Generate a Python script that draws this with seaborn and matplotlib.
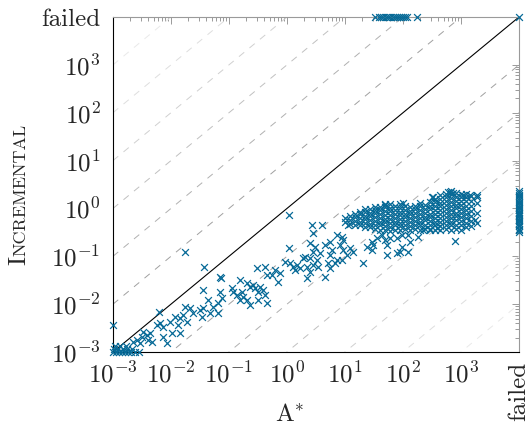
import matplotlib
matplotlib.use("Agg")
import matplotlib.pyplot as plt
import matplotlib.ticker as mticker
import numpy as np
import pandas as pd
import seaborn as sns

FAILED = 1e4  # position used for "failed" runs
BLUE = "#076a97"

# runtimes (s): A* on x, Incremental on y
trend_x = [1.0e-3, 1.08, 0.0174, 0.0371, 0.0720, 0.0356, 0.00628, 2.67, 3.94, 2.81,
           7.28, 8.77, 9.35, 11.3, 1.10, 2.49, 3.04, 5.51, 4.52, 2.84,
           2.04, 1.91, 5.90, 5.51, 7.19, 5.15, 3.71, 0.925, 1.13, 1.28,
           1.47, 1.68, 1.37, 2.19, 2.49, 2.19, 3.25, 3.47, 4.52, 0.621,
           0.757, 0.544, 0.447, 0.708, 0.418, 0.301, 0.155, 0.202, 0.230, 0.262,
           0.281, 0.320, 0.342, 0.390, 0.418, 0.447, 0.0700, 0.111, 0.119, 0.136,
           0.166, 0.177, 0.202, 0.230, 0.155, 0.0700, 0.0748, 0.0655, 0.0440, 0.0536,
           0.0361, 0.0470, 0.0655, 0.320, 0.0316, 0.0338, 0.0242, 0.0213, 0.0174, 0.0163,
           0.0143, 0.0187, 0.0117, 0.0096, 0.0134, 0.0143, 0.00736, 0.00736, 0.0103, 0.00844,
           0.00566, 0.00646, 0.00333, 0.00381, 0.00435, 0.00313, 0.00406, 0.00465, 0.00292, 0.00224,
           0.00256]
trend_y = [0.00366, 0.730, 0.123, 0.0597, 0.0356, 0.0197, 0.00695, 0.451, 0.451, 0.306,
           0.279, 0.256, 0.219, 0.451, 0.147, 0.189, 0.156, 0.202, 0.172, 0.125,
           0.098, 0.0908, 0.135, 0.106, 0.0836, 0.0713, 0.117, 0.0771, 0.0713, 0.0605,
           0.0658, 0.0561, 0.0516, 0.0605, 0.0476, 0.0347, 0.0836, 0.0605, 0.0374, 0.0516,
           0.0441, 0.0406, 0.0406, 0.0294, 0.0605, 0.0561, 0.0319, 0.0272, 0.0231, 0.0251,
           0.0214, 0.0182, 0.0231, 0.0197, 0.0155, 0.0104, 0.0374, 0.0214, 0.0182, 0.0155,
           0.0182, 0.0143, 0.0122, 0.00960, 0.0122, 0.0182, 0.0132, 0.0104, 0.0122, 0.00883,
           0.00818, 0.00645, 0.00645, 0.0122, 0.00755, 0.00547, 0.00645, 0.00818, 0.00883, 0.00593,
           0.00506, 0.00430, 0.00547, 0.00430, 0.00366, 0.00246, 0.00338, 0.00209, 0.00246, 0.00152,
           0.00366, 0.00398, 0.00265, 0.00226, 0.00246, 0.00209, 0.00178, 0.00164, 0.00152, 0.00164,
           0.00178]

# fastest instances, piled up in the lower left corner
corner_x = [1.0e-3, 1.13e-3, 1.27e-3, 1.43e-3, 1.61e-3, 1.82e-3, 2.04e-3, 2.39e-3, 2.81e-3,
            1.04e-3, 1.22e-3, 1.49e-3, 1.74e-3, 2.13e-3, 1.08e-3, 1.32e-3, 1.68e-3]
corner_y = [1.0e-3, 1.0e-3, 1.0e-3, 1.0e-3, 1.0e-3, 1.0e-3, 1.0e-3, 1.0e-3, 1.0e-3,
            1.155e-3, 1.155e-3, 1.155e-3, 1.155e-3, 1.155e-3, 1.33e-3, 1.33e-3, 1.33e-3]

# loose points around the big cluster
spread_x = [23.7, 28.8, 35.2, 42.9, 48.9, 52.4, 59.7, 77.8, 95.0, 132,
            184, 52.4, 77.8, 88.8, 123, 20.7, 8.20, 9.35, 12.2, 13.9,
            10.7, 8.77, 2.49, 2.84, 6.73, 5.51, 30.8, 29.0, 95.0, 123,
            224, 292, 381, 788,
            48.9, 101, 313, 646, 737, 1096, 1429, 1866, 1742, 333, 597]
spread_y = [0.158, 0.202, 0.238, 0.279, 0.219, 0.172, 0.238, 0.238, 0.279, 0.202,
            0.256, 0.106, 0.117, 0.125, 0.125, 0.0713, 0.172, 0.135, 0.147, 0.125,
            0.106, 0.0836, 0.0908, 0.0658, 0.0713, 0.0561, 0.172, 0.135, 0.158, 0.279,
            0.354, 0.354, 0.385, 0.212,
            1.18, 1.28, 1.76, 2.24, 2.07, 1.91, 1.91, 1.76, 0.573, 1.76, 2.24]

# dense cluster, read column by column (A* time -> Incremental times)
cluster_cols = [10.0, 12.3, 14.8, 18.1, 22.1, 27.0, 33.0, 40.3, 49.2, 60.1,
                73.4, 89.6, 109, 134, 163, 199, 243, 297, 363, 443,
                541, 660, 806, 984, 1200, 1466, 1877]
cluster_vals = [
    [0.52, 0.64],
    [0.48, 0.58, 0.70],
    [0.46, 0.55, 0.66, 0.78],
    [0.44, 0.53, 0.63, 0.75, 0.86],
    [0.41, 0.50, 0.60, 0.71, 0.84, 0.97],
    [0.40, 0.48, 0.57, 0.68, 0.81, 0.96],
    [0.38, 0.46, 0.55, 0.66, 0.79, 0.93, 1.08],
    [0.36, 0.44, 0.53, 0.63, 0.76, 0.91, 1.07],
    [0.35, 0.42, 0.51, 0.61, 0.74, 0.89, 1.06, 1.25],
    [0.34, 0.41, 0.50, 0.60, 0.72, 0.87, 1.04, 1.22],
    [0.36, 0.44, 0.53, 0.64, 0.77, 0.93, 1.12],
    [0.35, 0.42, 0.50, 0.60, 0.72, 0.86, 1.03, 1.22],
    [0.37, 0.45, 0.54, 0.65, 0.78, 0.94, 1.13],
    [0.36, 0.43, 0.52, 0.62, 0.75, 0.90, 1.08],
    [0.38, 0.46, 0.55, 0.66, 0.80, 0.96, 1.15],
    [0.36, 0.44, 0.53, 0.64, 0.77, 0.93, 1.12, 1.32],
    [0.38, 0.46, 0.56, 0.67, 0.81, 0.97, 1.17],
    [0.37, 0.45, 0.54, 0.65, 0.78, 0.95, 1.15, 1.38],
    [0.36, 0.44, 0.53, 0.64, 0.77, 0.93, 1.12, 1.35, 1.6],
    [0.35, 0.43, 0.52, 0.63, 0.76, 0.92, 1.10, 1.33, 1.6, 1.9],
    [0.37, 0.45, 0.55, 0.66, 0.80, 0.97, 1.17, 1.40, 1.7, 2.0],
    [0.36, 0.44, 0.53, 0.64, 0.77, 0.93, 1.12, 1.35, 1.65, 2.0, 2.3],
    [0.38, 0.46, 0.56, 0.68, 0.82, 1.00, 1.20, 1.45, 1.75, 2.1],
    [0.36, 0.44, 0.54, 0.65, 0.79, 0.96, 1.16, 1.40, 1.7, 2.0],
    [0.40, 0.50, 0.62, 0.76, 0.93, 1.13, 1.40, 1.7, 2.0],
    [0.42, 0.55, 0.70, 0.90, 1.10, 1.40, 1.8],
    [0.50, 0.80, 1.30, 1.9],
]

# A* failed: Incremental times; Incremental failed: A* times
astar_failed_inc = [0.32, 0.35, 0.38, 0.42, 0.46, 0.50, 0.54, 0.58, 0.63, 0.68,
                    0.73, 0.79, 0.85, 0.92, 1.00, 1.08, 1.17, 1.27, 1.38, 1.50,
                    1.63, 1.78, 1.95, 2.15, 2.35]
inc_failed_astar = [33, 38, 42, 46, 50, 55, 60, 66, 72, 78, 85, 92, 100, 108, 118, 175]
both_failed = 1

xs = list(trend_x) + corner_x + spread_x
ys = list(trend_y) + corner_y + spread_y
for cx, vals in zip(cluster_cols, cluster_vals):
    xs += [cx] * len(vals)
    ys += vals
xs += [FAILED] * len(astar_failed_inc) + inc_failed_astar + [FAILED] * both_failed
ys += astar_failed_inc + [FAILED] * len(inc_failed_astar) + [FAILED] * both_failed
df = pd.DataFrame({"astar": xs, "incremental": ys})

sns.set_style("white")
plt.rcParams.update({
    "font.family": "serif",
    "font.serif": ["cmr10"],
    "mathtext.fontset": "cm",
    "axes.unicode_minus": False,
    "axes.formatter.use_mathtext": True,
})

fig = plt.figure(figsize=(5.3, 4.33), dpi=100)
ax = fig.add_axes([113 / 530, 81 / 433, 406 / 530, 335 / 433])
ax.set_xscale("log")
ax.set_yscale("log")

# reference lines: equal time and factors of ten
lo, hi = 1e-3, FAILED
greys = ["#a0a0a0", "#b0b0b0", "#c0c0c0", "#d0d0d0", "#dedede", "#e9e9e9"]
for k, g in enumerate(greys, start=1):
    for f in (10.0 ** k, 10.0 ** -k):
        ax.plot([lo, hi], [lo * f, hi * f], color=g, lw=0.7,
                linestyle=(0, (7, 7)), zorder=1)
ax.plot([lo, hi], [lo, hi], color="black", lw=0.8, zorder=2)

sns.scatterplot(data=df, x="astar", y="incremental", marker="x", color=BLUE,
                s=24, linewidth=0.9, clip_on=False, zorder=3, legend=False, ax=ax)

ax.set_xlim(lo, hi)
ax.set_ylim(lo, hi)

major = [1e-3, 1e-2, 1e-1, 1e0, 1e1, 1e2, 1e3, FAILED]
labels = [r"$10^{-3}$", r"$10^{-2}$", r"$10^{-1}$", r"$10^{0}$",
          r"$10^{1}$", r"$10^{2}$", r"$10^{3}$", "failed"]
minor = [m * 10.0 ** d for d in range(-3, 3) for m in range(2, 10)]
for axis in (ax.xaxis, ax.yaxis):
    axis.set_major_locator(mticker.FixedLocator(major))
    axis.set_minor_locator(mticker.FixedLocator(minor))
    axis.set_minor_formatter(mticker.NullFormatter())
ax.set_xticklabels(labels)
ax.set_yticklabels(labels)
ax.get_xticklabels()[-1].set_rotation(90)

ax.tick_params(which="both", direction="in", top=True, right=True,
               color="#9a9a9a", width=0.7, labelsize=18)
ax.tick_params(which="major", length=5)
ax.tick_params(which="minor", length=3)
ax.tick_params(axis="x", pad=7)
ax.tick_params(axis="y", pad=9)

for side in ("left", "bottom"):
    ax.spines[side].set_color("black")
    ax.spines[side].set_linewidth(0.8)
for side in ("top", "right"):
    ax.spines[side].set_color("#9a9a9a")
    ax.spines[side].set_linewidth(0.8)

ax.set_xlabel("")
ax.set_ylabel("")
fig.text(290 / 530, 1 - 421 / 433, r"A$^{*}$", fontsize=18, ha="center", va="baseline")

# small caps y label: big "I" then smaller capitals
bx, by = 25 / 530, 1 - 265 / 433
t1 = fig.text(bx, by, "I", fontsize=18, rotation=90, rotation_mode="anchor",
              ha="left", va="baseline")
fig.canvas.draw()
bb = t1.get_window_extent().transformed(fig.transFigure.inverted())
fig.text(bx, bb.y1, "NCREMENTAL", fontsize=13, rotation=90, rotation_mode="anchor",
         ha="left", va="baseline")

fig.savefig("out.png", dpi=100)
